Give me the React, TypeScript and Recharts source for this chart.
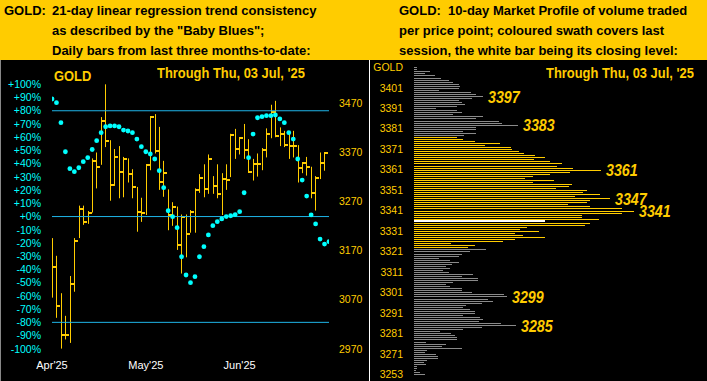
import { Bar, BarChart, ComposedChart, LabelList, ReferenceLine, Scatter, XAxis, YAxis } from "recharts";

const yellow = "#FFCC00";
const cyan = "#00FFFF";
const guideBlue = "#1FB5E8";
const profileGrey = "#8A8A8A";

const leftHeaderLines = [
  "21-day linear regression trend consistency",
  'as described by the "Baby Blues";',
  "Daily bars from last three months-to-date:",
];
const rightHeaderLines = [
  "GOLD:  10-day Market Profile of volume traded",
  "per price point; coloured swath covers last",
  "session, the white bar being its closing level:",
];
const throughLabel = "Through Thu, 03 Jul, '25";

// daily bars, early Apr through 03 Jul
const dayHigh = [
  3195, 3159, 3083, 3037, 3118, 3195, 3261, 3261, 3250, 3357, 3369, 3441, 3508, 3394, 3376, 3382,
  3360, 3357, 3335, 3299, 3277, 3345, 3443, 3447, 3421, 3352, 3294, 3268, 3259, 3243, 3243, 3252,
  3296, 3325, 3345, 3365, 3321, 3345, 3327, 3345, 3407, 3417, 3400, 3427, 3396, 3356, 3367, 3378,
  3418, 3466, 3474, 3420, 3413, 3409, 3413, 3384, 3349, 3360, 3340, 3321, 3369, 3369, 3376,
];
const dayLow = [
  3074, 3033, 2970, 2989, 2982, 3086, 3195, 3222, 3224, 3247, 3296, 3344, 3380, 3271, 3301, 3276,
  3278, 3308, 3276, 3208, 3228, 3242, 3333, 3367, 3293, 3279, 3211, 3220, 3171, 3123, 3156, 3206,
  3206, 3287, 3278, 3285, 3285, 3276, 3242, 3293, 3319, 3356, 3365, 3356, 3329, 3312, 3320, 3333,
  3359, 3398, 3400, 3382, 3380, 3356, 3359, 3308, 3327, 3322, 3276, 3251, 3315, 3332, 3320,
];
const dayClose = [
  3137, 3056, 2999, 2999, 3101, 3190, 3254, 3227, 3247, 3352, 3340, 3433, 3392, 3302, 3360, 3330,
  3355, 3326, 3299, 3249, 3247, 3343, 3442, 3373, 3310, 3328, 3241, 3259, 3180, 3238, 3203, 3248,
  3293, 3317, 3295, 3356, 3301, 3284, 3315, 3313, 3405, 3376, 3398, 3375, 3330, 3346, 3346, 3375,
  3406, 3451, 3403, 3406, 3384, 3382, 3382, 3338, 3347, 3339, 3286, 3317, 3348, 3367, 3336,
];
const babyBlues = [
  88.9, 86.1, 71, 49, 36.2, 33.9, 36.9, 41.5, 44.5, 50.7, 57.4, 63.4, 67.9, 68.5, 68.5, 67.9,
  65.4, 64.7, 63.4, 58.6, 52.8, 49, 47.3, 43.5, 34.7, 21.8, 4.4, -0.1, -8.4, -30.4, -44.2, -50,
  -45.5, -30.4, -22.8, -13.9, -6.9, -3.9, -1.8, 0, 0.6, 1.4, 3.7, 18, 44.5, 62.4, 74.7, 75.5,
  76.3, 76.3, 76.8, 73.8, 71, 63.4, 58.6, 43.5, 27.6, 15.5, 1.2, -5.6, -17, -20.8, -19,
];
const monthTicks = [0, 21, 42];
const monthLabels = ["Apr'25", "May'25", "Jun'25"];
const pctTicks = [100, 90, 80, 70, 60, 50, 40, 30, 20, 10, 0, -10, -20, -30, -40, -50, -60, -70, -80, -90, -100];
const priceTicks = [2970, 3070, 3170, 3270, 3370, 3470];
const guideLevels = [80, 0, -80];

// market profile, one entry per price point from 3411 down to 3261
const profileTop = 3411;
const profileVolume = [
  3, 3, 16, 11, 21, 27, 35, 39, 45, 46,
  45, 25, 57, 62, 69, 58, 45, 48, 51, 43,
  22, 43, 48, 39, 69, 62, 85, 88, 104, 62,
  62, 49, 62, 50, 43, 49, 61, 86, 71, 97,
  98, 105, 110, 121, 131, 120, 136, 148, 143, 159,
  187, 156, 136, 119, 111, 140, 119, 158, 155, 142,
  173, 169, 186, 161, 196, 176, 173, 154, 176, 208,
  220, 208, 168, 168, 185, 131, 176, 171, 113, 106,
  125, 101, 109, 131, 101, 89, 37, 61, 54, 72,
  56, 48, 45, 25, 36, 45, 38, 32, 36, 29,
  35, 59, 48, 64, 64, 39, 32, 36, 48, 48,
  58, 90, 93, 74, 79, 68, 52, 49, 56, 61,
  61, 49, 66, 69, 65, 87, 102, 68, 49, 26,
  37, 41, 43, 43, 12, 32, 28, 48, 13, 11,
  22, 24, 24, 13, 10, 12, 3, 3, 2, 6,
  11,
];
const swathLow = 3323;
const swathHigh = 3377;
const closeLevel = 3336;
const profileCallouts = [3397, 3383, 3361, 3347, 3341, 3299, 3285];
const profileAxisNames: Record<number, string> = { 3411: "GOLD", 3261: "3253" };

const profileColour = (price: number) => {
  if (price === closeLevel) return "#ffffff";
  if (price >= swathLow && price <= swathHigh) return yellow;
  return profileGrey;
};

const HlcBar = (props: any) => {
  const { x, y, width, height, payload } = props;
  if (height == null || !payload) return null;
  const [lo, hi] = payload.range;
  const top = Math.min(y, y + height);
  const h = Math.abs(height);
  const cx = Math.round(x + width / 2);
  const closeY = top + ((hi - payload.close) / (hi - lo)) * h;
  return (
    <g fill={yellow}>
      <rect x={cx} y={top} width={1} height={h} />
      <rect x={cx} y={Math.round(closeY) - 1} width={4} height={2} />
    </g>
  );
};

const BlueDot = (props: any) => <circle cx={props.cx} cy={props.cy} r={2.4} fill={cyan} />;

const ProfileBar = (props: any) => {
  const { x, y, width, height, payload } = props;
  if (!width || !payload) return null;
  const thick = payload.price === closeLevel ? 2 : 1;
  return (
    <rect
      x={x}
      y={Math.round(y + height / 2 - thick / 2)}
      width={width}
      height={thick}
      fill={profileColour(payload.price)}
    />
  );
};

const Callout = (props: any) => {
  const vb = props.viewBox ?? props;
  const value = props.value;
  if (!profileCallouts.includes(Number(value))) return null;
  const tx = vb.x + vb.width + 5;
  const ty = vb.y + vb.height / 2;
  return (
    <text
      transform={`translate(${tx},${ty}) scale(0.84,1)`}
      dy="0.36em"
      fill={yellow}
      fontSize={17}
      fontWeight="bold"
      fontStyle="italic"
    >
      {value}
    </text>
  );
};

const headerText: React.CSSProperties = {
  position: "absolute",
  top: 0.5,
  fontSize: 13,
  fontWeight: "bold",
  lineHeight: "20px",
  color: "#000",
  whiteSpace: "pre",
};

const caption: React.CSSProperties = {
  position: "absolute",
  fontSize: 15,
  fontWeight: "bold",
  lineHeight: "16px",
  color: yellow,
  whiteSpace: "pre",
  transform: "scaleX(0.86)",
  transformOrigin: "left center",
};

export default function App() {
  const days = dayHigh.map((h, i) => ({ i, range: [dayLow[i], h], close: dayClose[i], blues: babyBlues[i] }));
  const profile = profileVolume.map((v, k) => ({ price: profileTop - k, volume: v }));

  return (
    <div
      style={{
        position: "fixed",
        left: 0,
        top: 0,
        width: 707,
        height: 381,
        background: "#000",
        overflow: "hidden",
        fontFamily: "Arial, 'Liberation Sans', sans-serif",
      }}
    >
      <div style={{ position: "absolute", left: 0, top: 0, width: 707, height: 60, background: yellow }} />
      <div style={{ ...headerText, left: 4 }}>GOLD:</div>
      <div style={{ ...headerText, left: 52 }}>{leftHeaderLines.join("\n")}</div>
      <div style={{ ...headerText, left: 399 }}>{rightHeaderLines.join("\n")}</div>
      <div style={{ position: "absolute", left: 0, top: 60, width: 1, height: 321, background: "#888" }} />
      <div style={{ position: "absolute", left: 369, top: 60, width: 1, height: 321, background: "#fff" }} />

      <div style={{ position: "absolute", left: 0, top: 60 }}>
        <ComposedChart width={370} height={321} data={days} margin={{ top: 24.3, right: 0, bottom: 2.2, left: 0 }}>
          <XAxis
            dataKey="i"
            type="number"
            domain={[0, 62]}
            allowDataOverflow
            ticks={monthTicks}
            tickFormatter={(v) => monthLabels[monthTicks.indexOf(v)] ?? ""}
            axisLine={false}
            tickLine={false}
            tickSize={0}
            tickMargin={12}
            height={30}
            tick={{ fill: "#fff", fontSize: 11 }}
          />
          <YAxis
            yAxisId="pct"
            orientation="left"
            width={52}
            domain={[-100, 100]}
            allowDataOverflow
            ticks={pctTicks}
            interval={0}
            tickFormatter={(v) => `${v >= 0 ? "+" : ""}${v}%`}
            axisLine={false}
            tickLine={false}
            tickSize={0}
            tickMargin={11}
            tick={{ fill: cyan, fontSize: 10.5 }}
          />
          <YAxis
            yAxisId="price"
            orientation="right"
            width={41}
            domain={[2970, 3507.6]}
            allowDataOverflow
            ticks={priceTicks}
            interval={0}
            axisLine={false}
            tickLine={false}
            tickSize={0}
            tickMargin={10}
            tick={{ fill: yellow, fontSize: 10.5, textAnchor: "start" }}
          />
          {guideLevels.map((lv) => (
            <ReferenceLine key={lv} yAxisId="pct" y={lv} stroke={guideBlue} strokeWidth={1} />
          ))}
          <Bar yAxisId="price" dataKey="range" barSize={6} shape={HlcBar} isAnimationActive={false} />
          <Scatter yAxisId="pct" dataKey="blues" shape={BlueDot} isAnimationActive={false} />
        </ComposedChart>
      </div>

      <div style={{ position: "absolute", left: 360, top: 60 }}>
        <BarChart
          width={347}
          height={321}
          data={profile}
          layout="vertical"
          margin={{ top: 6.3, right: 0, bottom: 5.7, left: 0 }}
        >
          <XAxis type="number" hide domain={[0, 293]} allowDataOverflow />
          <YAxis
            type="category"
            dataKey="price"
            width={54}
            interval={9}
            axisLine={false}
            tickLine={false}
            tickSize={0}
            tickMargin={11}
            tickFormatter={(v) => profileAxisNames[v] ?? String(v)}
            tick={{ fill: yellow, fontSize: 10.5 }}
          />
          <Bar dataKey="volume" barSize={1} shape={ProfileBar} isAnimationActive={false}>
            <LabelList dataKey="price" content={Callout} />
          </Bar>
        </BarChart>
      </div>

      <div style={{ ...caption, left: 54, top: 67.7 }}>GOLD</div>
      <div style={{ ...caption, left: 157, top: 65.3 }}>{throughLabel}</div>
      <div style={{ ...caption, left: 546, top: 65.3 }}>{throughLabel}</div>
    </div>
  );
}
